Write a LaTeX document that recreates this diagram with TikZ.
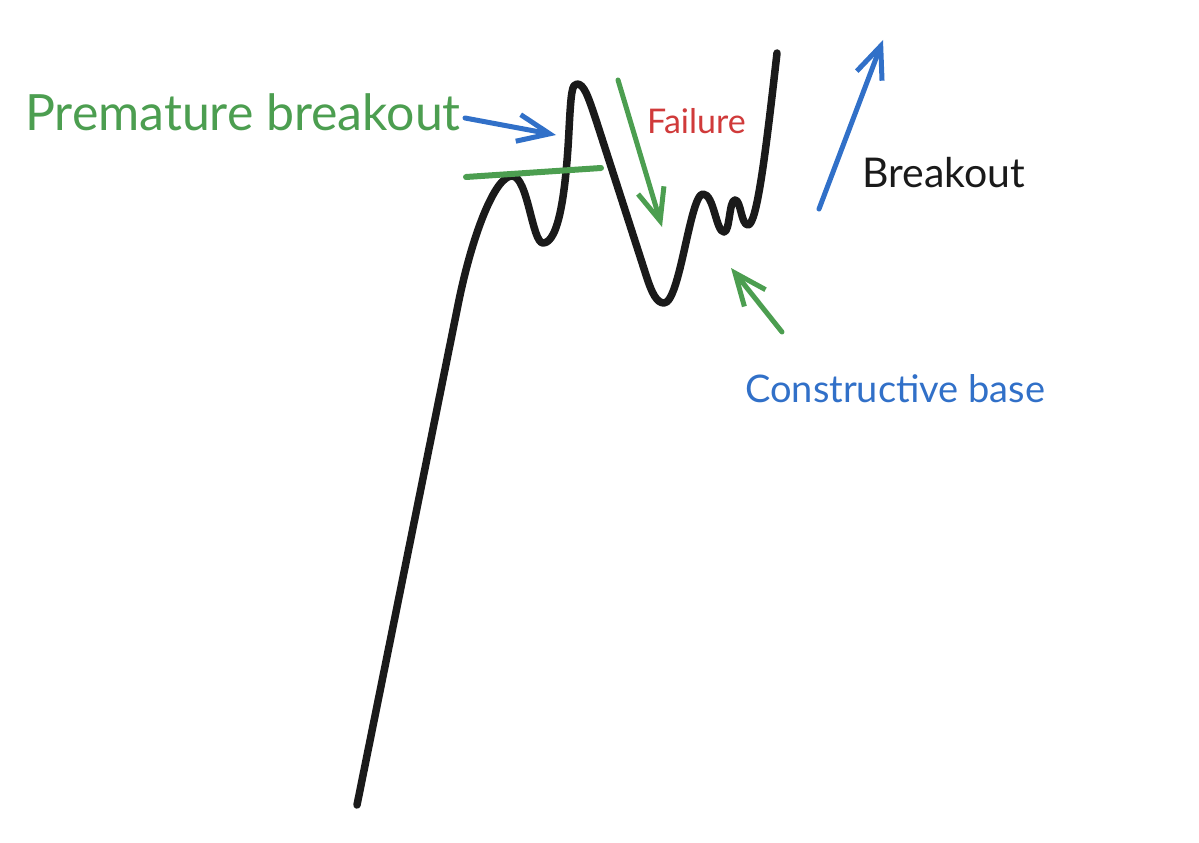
\documentclass[tikz,border=0pt]{standalone}
\usepackage{fontspec}
\setmainfont{Lato}
\usetikzlibrary{arrows.meta}
\definecolor{sketchgreen}{RGB}{76,158,80}
\definecolor{sketchblue}{RGB}{49,112,200}
\definecolor{sketchred}{RGB}{208,58,58}
\definecolor{sketchblack}{RGB}{26,26,26}
\tikzset{
  price/.style={draw=sketchblack, line width=7.5pt, line cap=round, line join=round},
  pointer/.style={line width=5pt, line cap=round, line join=round,
    -{Straight Barb[length=32pt, width=27pt, line width=5pt]}},
  label/.style={anchor=base west, inner sep=0pt},
}
\begin{document}
\begin{tikzpicture}[x=1pt,y=1pt,yscale=-1]
\path[use as bounding box] (0,0) rectangle (1199,843);

% price path
\draw[price] (357,805) -- (458,305)
  .. controls (472,235) and (495,176) .. (512,176)
  .. controls (528,176) and (532,243) .. (543,243)
  .. controls (559,243) and (566,190) .. (569,130)
  .. controls (571,92) and (572,84) .. (577,84)
  .. controls (584,84) and (588,96) .. (596,120)
  -- (646,275)
  .. controls (652,294) and (657,303) .. (664,303)
  .. controls (680,303) and (690,194) .. (703,194)
  .. controls (714,194) and (716,232) .. (724,232)
  .. controls (730,232) and (729,200) .. (735,200)
  .. controls (741,200) and (741,225) .. (748,225)
  .. controls (757,225) and (766,150) .. (777,53);

% resistance line
\coordinate (resL) at (466,177);
\coordinate (resR) at (601,168);
\draw[sketchgreen, line width=6pt, line cap=round] (resL) -- (resR);

% labels
\node[label, text=sketchgreen, font=\fontsize{50}{60}\selectfont] (premature) at (25,130) {Premature breakout};
\node[label, text=sketchred, font=\fontsize{34}{40}\selectfont] (failure) at (647,133) {Failure};
\node[label, text=sketchblack, font=\fontsize{41}{48}\selectfont] (breakout) at (862,187) {Breakout};
\node[label, text=sketchblue, font=\fontsize{38}{45}\selectfont] (base) at (745,402) {Constructive base};

% arrows
\coordinate (prematureTail) at (465,118);
\coordinate (prematureTip) at (556,135);
\coordinate (failureTail) at (618,80);
\coordinate (failureTip) at (662,227);
\coordinate (baseTail) at (782,332);
\coordinate (baseTip) at (731,268);
\coordinate (breakoutTail) at (819,209);
\coordinate (breakoutTip) at (883,40);
\draw[pointer, sketchblue] (prematureTail) -- (prematureTip);
\draw[pointer, sketchgreen] (failureTail) -- (failureTip);
\draw[pointer, sketchgreen] (baseTail) -- (baseTip);
\draw[pointer, sketchblue] (breakoutTail) -- (breakoutTip);
\end{tikzpicture}
\end{document}
